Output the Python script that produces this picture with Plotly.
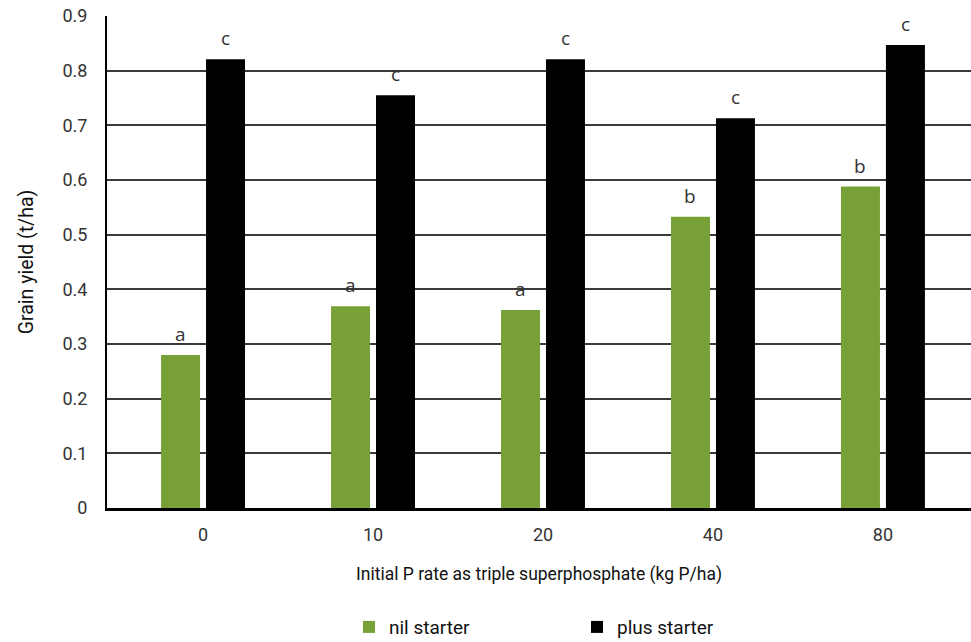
import plotly.graph_objects as go

categories = ["0", "10", "20", "40", "80"]
nil_starter = [0.280, 0.369, 0.362, 0.533, 0.588]
plus_starter = [0.821, 0.755, 0.821, 0.713, 0.847]
nil_letters = ["a", "a", "a", "b", "b"]
plus_letters = ["c", "c", "c", "c", "c"]
y_ticks = [0, 0.1, 0.2, 0.3, 0.4, 0.5, 0.6, 0.7, 0.8, 0.9]

FONT = "Roboto, Liberation Sans, sans-serif"
GREEN = "#77A136"

fig = go.Figure()
fig.add_trace(go.Bar(name="nil starter", x=categories, y=nil_starter,
                     marker=dict(color=GREEN, line=dict(width=0))))
fig.add_trace(go.Bar(name="plus starter", x=categories, y=plus_starter,
                     marker=dict(color="#000000", line=dict(width=0))))

annotations = []
for i, c in enumerate(categories):
    for vals, letters, shift in ((nil_starter, nil_letters, -22.5), (plus_starter, plus_letters, 22.5)):
        annotations.append(dict(x=i, y=vals[i], xref="x", yref="y", text=letters[i],
                                showarrow=False, xshift=shift, yshift=6, yanchor="bottom",
                                font=dict(family="Open Sans, sans-serif", size=19, color="#333333")))

fig.update_layout(
    width=971, height=642,
    margin=dict(l=107, r=0, t=16, b=134, autoexpand=False),
    paper_bgcolor="white", plot_bgcolor="white",
    barmode="group", bargap=0.471, bargroupgap=0.133,
    font=dict(family=FONT, size=18, color="#333333"),
    showlegend=True,
    legend=dict(orientation="h", x=0.2801, xanchor="left", y=-0.242, yanchor="middle",
                font=dict(family=FONT, size=19, color="#111111"), entrywidth=183,
                traceorder="normal"),
    annotations=annotations,
)
fig.update_xaxes(type="category", range=[-0.565, 4.518], showgrid=False, automargin=False,
                 showline=True, linecolor="black", linewidth=2.5, ticks="",
                 tickfont=dict(family=FONT, size=18, color="#333333"), ticklabelstandoff=9,
                 title=dict(text="Initial P rate as triple superphosphate (kg P/ha)",
                            font=dict(family=FONT, size=17.5, color="#111111"), standoff=24))
fig.update_yaxes(range=[0, 0.9], tickvals=y_ticks, ticktext=[f"{v:g}" for v in y_ticks],
                 showgrid=True, gridcolor="#3a3a3a", gridwidth=1.5, automargin=False,
                 showline=True, linecolor="black", linewidth=2, ticks="",
                 zeroline=False,
                 tickfont=dict(family=FONT, size=18, color="#333333"), ticklabelstandoff=14,
                 title=dict(text="Grain yield (t/ha)",
                            font=dict(family=FONT, size=19.5, color="#111111"), standoff=24))

fig.write_html("out.html", post_script="document.body.style.margin='0';",
               config={"displayModeBar": False})
